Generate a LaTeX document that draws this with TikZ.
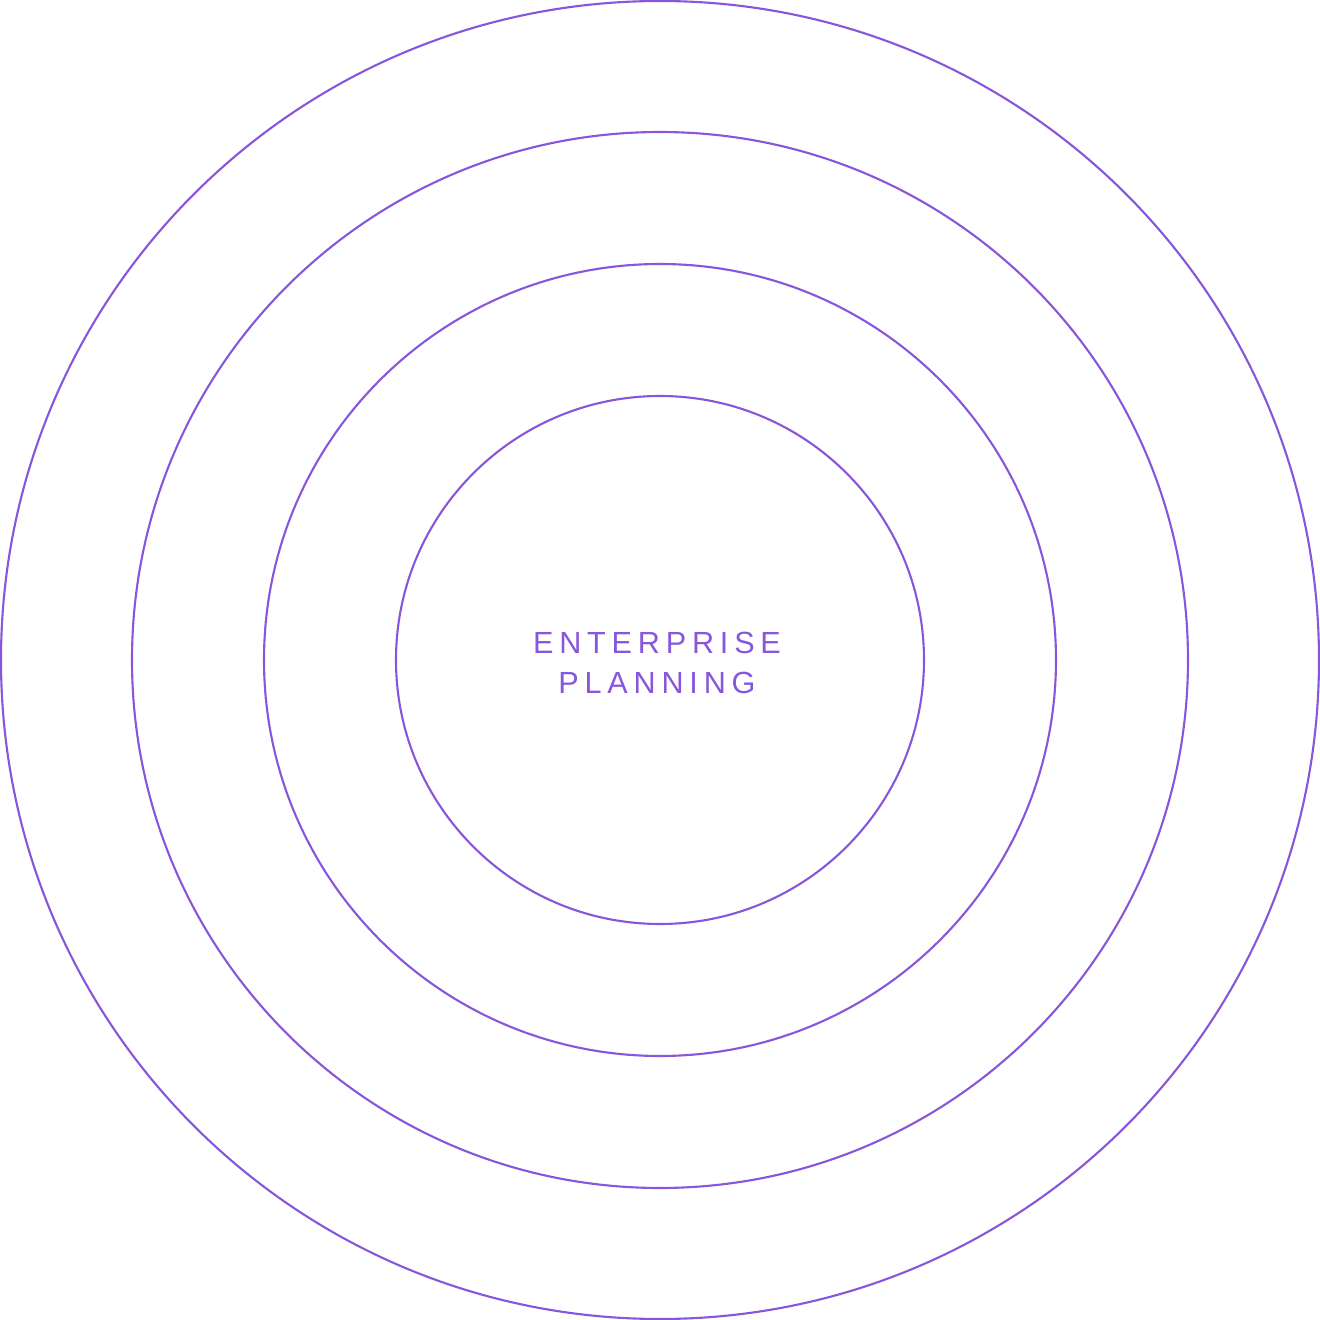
\documentclass[tikz,border=0pt]{standalone}
\usepackage{fontspec}
\setmainfont{Liberation Sans}
\newfontfamily\trackfont[LetterSpace=19]{Liberation Sans}
\definecolor{ringpurple}{HTML}{8756DB}
\begin{document}
\begin{tikzpicture}[x=0.01cm, y=0.01cm]
    \useasboundingbox (0,0) rectangle (1320,1320);
\foreach \r [count=\i] in {659,528,396,264}
{
    \draw[ringpurple, line width=0.6pt] (660,660) circle (\r);
}
    \node[ringpurple, align=center, font=\trackfont\fontsize{8.7pt}{11.4pt}\selectfont] (title) at (657,657) {ENTERPRISE\\PLANNING};
    \end{tikzpicture}
\end{document}
